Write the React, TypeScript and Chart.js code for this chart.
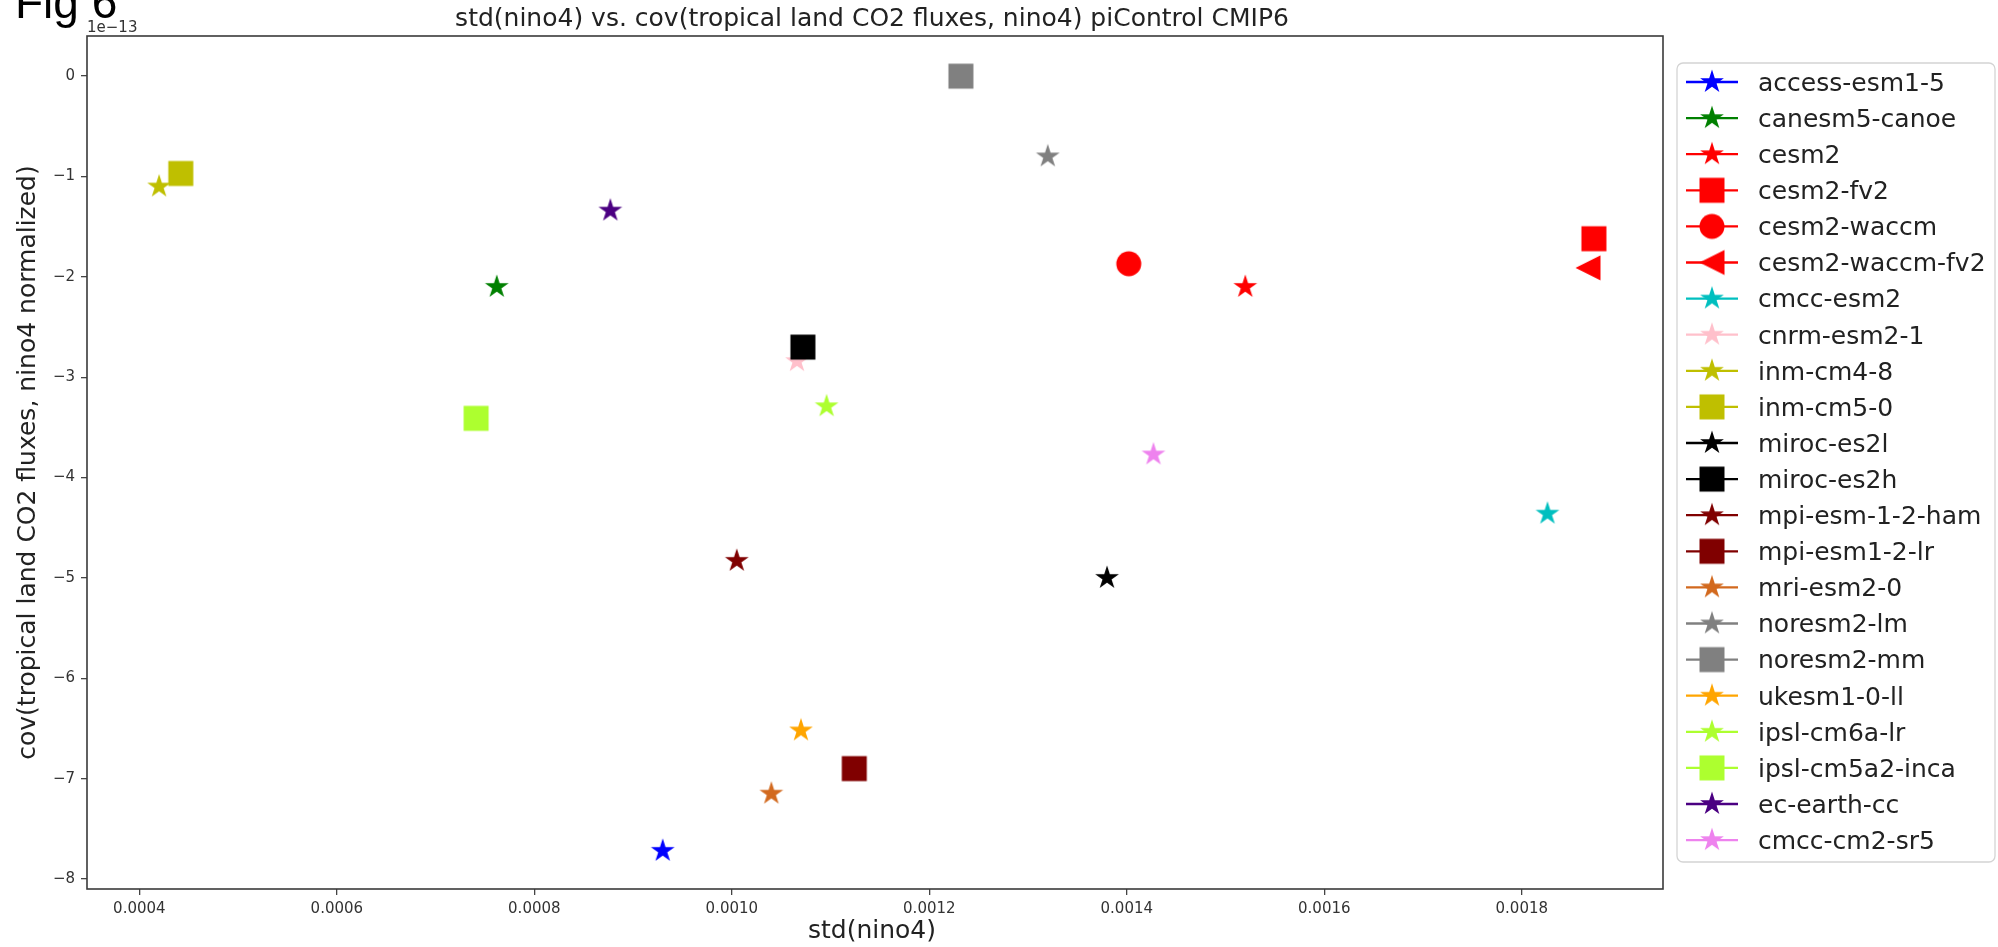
import React, { useEffect, useRef } from 'react';
import { Chart, registerables } from 'chart.js';

Chart.register(...registerables);

// ---------------- data ----------------
const MODELS = [
  'access-esm1-5',
  'canesm5-canoe',
  'cesm2',
  'cesm2-fv2',
  'cesm2-waccm',
  'cesm2-waccm-fv2',
  'cmcc-esm2',
  'cnrm-esm2-1',
  'inm-cm4-8',
  'inm-cm5-0',
  'miroc-es2l',
  'miroc-es2h',
  'mpi-esm-1-2-ham',
  'mpi-esm1-2-lr',
  'mri-esm2-0',
  'noresm2-lm',
  'noresm2-mm',
  'ukesm1-0-ll',
  'ipsl-cm6a-lr',
  'ipsl-cm5a2-inca',
  'ec-earth-cc',
  'cmcc-cm2-sr5',
];

// std(nino4)
const STD_NINO4 = [
  0.00093, 0.000762, 0.00152, 0.001873, 0.001402, 0.001867, 0.001826, 0.001066,
  0.00042, 0.000442, 0.00138, 0.001072, 0.001005, 0.001124, 0.00104, 0.00132,
  0.001232, 0.00107, 0.001096, 0.000741, 0.000877, 0.001427,
];

// cov(tropical land CO2 fluxes, nino4 normalized), in units of 1e-13
const COV_E13 = [
  -7.72, -2.1, -2.1, -1.62, -1.87, -1.91, -4.36, -2.84,
  -1.1, -0.97, -5.0, -2.7, -4.83, -6.9, -7.15, -0.8,
  0.0, -6.52, -3.29, -3.41, -1.34, -3.77,
];

const COLORS = [
  '#0000ff', '#008000', '#ff0000', '#ff0000', '#ff0000', '#ff0000', '#00bfbf', '#ffc0cb',
  '#bfbf00', '#bfbf00', '#000000', '#000000', '#800000', '#800000', '#d2691e', '#808080',
  '#808080', '#ffa500', '#adff2f', '#adff2f', '#4b0082', '#ee82ee',
];

const MARKERS = [
  'star', 'star', 'star', 'square', 'circle', 'triangleLeft', 'star', 'star',
  'star', 'square', 'star', 'square', 'star', 'square', 'star', 'star',
  'square', 'star', 'star', 'square', 'star', 'star',
];

const X_TICKS = [0.0004, 0.0006, 0.0008, 0.001, 0.0012, 0.0014, 0.0016, 0.0018];
const Y_TICKS = [-8, -7, -6, -5, -4, -3, -2, -1, 0];

const X_MIN = 0.000347;
const X_MAX = 0.001943;
const Y_MIN = -8.1;
const Y_MAX = 0.4;

const TITLE = 'std(nino4) vs. cov(tropical land CO2 fluxes, nino4) piControl CMIP6';
const X_LABEL = 'std(nino4)';
const Y_LABEL = 'cov(tropical land CO2 fluxes, nino4 normalized)';
const Y_OFFSET_LABEL = '1e\u221213';
const FIG_LABEL = 'Fig 6';

// ---------------- helpers ----------------
const FONT = '"DejaVu Sans", "Liberation Sans", sans-serif';
const MS = 25; // marker size in px
const MC = 30; // marker canvas size

function makeMarker(shape: string, color: string): HTMLCanvasElement {
  const c = document.createElement('canvas');
  c.width = MC;
  c.height = MC;
  const ctx = c.getContext('2d')!;
  ctx.fillStyle = color;
  const m = MC / 2;
  const h = MS / 2;
  ctx.beginPath();
  if (shape === 'star') {
    const R = h;
    const r = R * 0.381966;
    for (let k = 0; k < 10; k++) {
      const a = -Math.PI / 2 + (k * Math.PI) / 5;
      const rr = k % 2 === 0 ? R : r;
      const px = m + rr * Math.cos(a);
      const py = m + rr * Math.sin(a);
      if (k === 0) ctx.moveTo(px, py);
      else ctx.lineTo(px, py);
    }
  } else if (shape === 'square') {
    ctx.rect(m - h, m - h, MS, MS);
  } else if (shape === 'circle') {
    ctx.arc(m, m, h, 0, Math.PI * 2);
  } else if (shape === 'triangleLeft') {
    ctx.moveTo(m - h, m);
    ctx.lineTo(m + h, m - h);
    ctx.lineTo(m + h, m + h);
  }
  ctx.closePath();
  ctx.fill();
  return c;
}

export default function App() {
  const ref = useRef<HTMLCanvasElement>(null);

  useEffect(() => {
    const canvas = ref.current;
    if (!canvas) return;
    const markers = MODELS.map((_, i) => makeMarker(MARKERS[i], COLORS[i]));

    const decor = {
      id: 'decor',
      afterDraw(chart: any) {
        const ctx: CanvasRenderingContext2D = chart.ctx;
        const a = chart.chartArea;
        ctx.save();
        // frame
        ctx.strokeStyle = '#3a3a3a';
        ctx.lineWidth = 1.6;
        ctx.strokeRect(a.left, a.top, a.right - a.left, a.bottom - a.top);

        // figure label
        ctx.fillStyle = '#000';
        ctx.textAlign = 'left';
        ctx.textBaseline = 'alphabetic';
        ctx.font = '46px "Liberation Sans", Arial, sans-serif';
        ctx.fillText(FIG_LABEL, 15, 18);

        // title
        ctx.fillStyle = '#222';
        ctx.font = `25px ${FONT}`;
        ctx.textAlign = 'center';
        ctx.fillText(TITLE, (a.left + a.right) / 2 - 3, 26);

        // offset text
        ctx.font = `15px ${FONT}`;
        ctx.textAlign = 'left';
        ctx.fillStyle = '#333';
        ctx.fillText(Y_OFFSET_LABEL, a.left, 32);

        // x label
        ctx.font = `25px ${FONT}`;
        ctx.fillStyle = '#222';
        ctx.textAlign = 'center';
        ctx.fillText(X_LABEL, (a.left + a.right) / 2 - 3, 938);

        // y label
        ctx.save();
        ctx.translate(35, (a.top + a.bottom) / 2);
        ctx.rotate(-Math.PI / 2);
        ctx.textAlign = 'center';
        ctx.fillText(Y_LABEL, 0, 0);
        ctx.restore();

        // legend
        const bx = 1677, by = 63, bw = 318, bh = 799, rad = 6;
        ctx.beginPath();
        ctx.moveTo(bx + rad, by);
        ctx.lineTo(bx + bw - rad, by);
        ctx.arcTo(bx + bw, by, bx + bw, by + rad, rad);
        ctx.lineTo(bx + bw, by + bh - rad);
        ctx.arcTo(bx + bw, by + bh, bx + bw - rad, by + bh, rad);
        ctx.lineTo(bx + rad, by + bh);
        ctx.arcTo(bx, by + bh, bx, by + bh - rad, rad);
        ctx.lineTo(bx, by + rad);
        ctx.arcTo(bx, by, bx + rad, by, rad);
        ctx.closePath();
        ctx.fillStyle = 'rgba(255,255,255,0.85)';
        ctx.fill();
        ctx.strokeStyle = '#d4d4d4';
        ctx.lineWidth = 1.3;
        ctx.stroke();

        ctx.font = `25px ${FONT}`;
        ctx.textAlign = 'left';
        ctx.textBaseline = 'alphabetic';
        MODELS.forEach((name, i) => {
          const cy = 82 + i * 36.1;
          ctx.strokeStyle = COLORS[i];
          ctx.lineWidth = 2.3;
          ctx.beginPath();
          ctx.moveTo(1686, cy);
          ctx.lineTo(1738, cy);
          ctx.stroke();
          ctx.drawImage(markers[i], 1712 - MC / 2, cy - MC / 2);
          ctx.fillStyle = '#222';
          ctx.fillText(name, 1758, cy + 8.8);
        });
        ctx.restore();
      },
    };

    const tickFont = { family: FONT, size: 15 };

    const chart = new Chart(canvas, {
      type: 'scatter',
      data: {
        datasets: MODELS.map((name, i) => ({
          label: name,
          data: [{ x: STD_NINO4[i], y: COV_E13[i] }],
          pointStyle: markers[i] as any,
          pointRadius: 12,
          pointHoverRadius: 12,
          backgroundColor: COLORS[i],
          borderColor: COLORS[i],
          showLine: false,
          order: MODELS.length - i,
        })),
      },
      options: {
        animation: false,
        responsive: false,
        devicePixelRatio: 1,
        layout: { padding: { left: 0, right: 335, top: 36, bottom: 0 } },
        plugins: {
          legend: { display: false },
          tooltip: { enabled: false },
          title: { display: false },
        },
        scales: {
          x: {
            type: 'linear',
            min: X_MIN,
            max: X_MAX,
            afterFit: (s: any) => {
              s.height = 58;
            },
            afterBuildTicks: (s: any) => {
              s.ticks = X_TICKS.map((v) => ({ value: v }));
            },
            ticks: {
              callback: (v: any) => Number(v).toFixed(4),
              font: tickFont,
              color: '#333',
              padding: 5,
              maxRotation: 0,
              minRotation: 0,
              autoSkip: false,
            },
            grid: {
              drawOnChartArea: false,
              drawTicks: true,
              tickLength: 6,
              color: '#444',
              lineWidth: 1.3,
            },
            border: { display: false },
          },
          y: {
            type: 'linear',
            min: Y_MIN,
            max: Y_MAX,
            afterFit: (s: any) => {
              s.width = 87;
            },
            afterBuildTicks: (s: any) => {
              s.ticks = Y_TICKS.map((v) => ({ value: v }));
            },
            ticks: {
              callback: (v: any) => String(Number(v)).replace('-', '\u2212'),
              font: tickFont,
              color: '#333',
              padding: 6,
              autoSkip: false,
            },
            grid: {
              drawOnChartArea: false,
              drawTicks: true,
              tickLength: 6,
              color: '#444',
              lineWidth: 1.3,
            },
            border: { display: false },
          },
        },
      } as any,
      plugins: [decor],
    });

    return () => {
      chart.destroy();
    };
  }, []);

  return (
    <div
      style={{
        position: 'fixed',
        left: 0,
        top: 0,
        width: 1998,
        height: 947,
        background: '#fff',
        overflow: 'hidden',
      }}
    >
      <canvas
        ref={ref}
        width={1998}
        height={947}
        style={{ display: 'block', width: 1998, height: 947 }}
      />
    </div>
  );
}
